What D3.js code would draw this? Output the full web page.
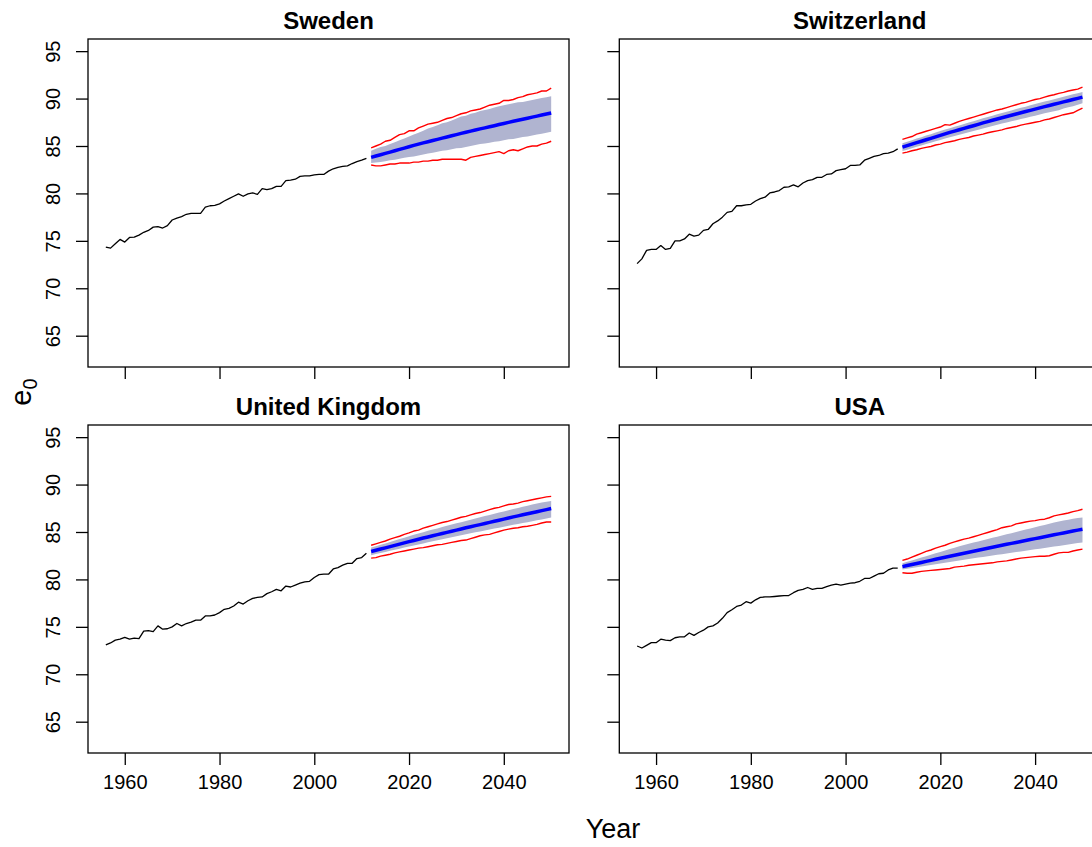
<!DOCTYPE html>
<html>
<head>
<meta charset="utf-8">
<script src="https://cdn.jsdelivr.net/npm/d3@7"></script>
<style>
  html, body { margin: 0; padding: 0; background: #ffffff; }
  svg { display: block; font-family: "Liberation Sans", Arial, sans-serif; }
</style>
</head>
<body>
<svg id="chart" width="1092" height="847"></svg>
<script>
// ---------------- DATA ----------------
const countries = ["Sweden", "Switzerland", "United Kingdom", "USA"];
const histYears = d3.range(1956, 2012);
const fcYears = d3.range(2012, 2051);
const xTickValues = [1960, 1980, 2000, 2020, 2040];
const yTickValues = [65, 70, 75, 80, 85, 90, 95];
const xLabel = "Year";

// historical e0, 1956-2011
const swedenHist = [74.34, 74.23, 74.7, 75.15, 74.87, 75.36, 75.4, 75.6, 75.9, 76.1,
  76.45, 76.5, 76.35, 76.6, 77.2, 77.4, 77.55, 77.8, 77.9, 77.9,
  77.9, 78.55, 78.7, 78.75, 78.9, 79.2, 79.45, 79.7, 79.95, 79.7,
  79.95, 80.05, 79.9, 80.5, 80.4, 80.5, 80.75, 80.75, 81.35, 81.4,
  81.5, 81.8, 81.85, 81.85, 81.95, 82.0, 82.0, 82.35, 82.6, 82.75,
  82.85, 82.9, 83.15, 83.35, 83.5, 83.7];
const switzerlandHist = [72.6, 73.1, 74.0, 74.1, 74.1, 74.5, 74.1, 74.2, 75.0, 75.0,
  75.2, 75.7, 75.5, 75.6, 76.1, 76.2, 76.8, 77.1, 77.5, 78.0,
  78.1, 78.7, 78.7, 78.8, 78.85, 79.2, 79.45, 79.6, 80.05, 80.15,
  80.3, 80.65, 80.7, 80.9, 80.7, 81.1, 81.35, 81.45, 81.7, 81.7,
  82.0, 82.05, 82.4, 82.5, 82.6, 82.95, 82.95, 83.0, 83.5, 83.7,
  83.9, 84.0, 84.2, 84.25, 84.4, 84.7];
const ukHist = [73.1, 73.3, 73.6, 73.7, 73.9, 73.7, 73.8, 73.75, 74.55, 74.6,
  74.5, 75.1, 74.75, 74.8, 75.0, 75.35, 75.1, 75.35, 75.5, 75.7,
  75.7, 76.15, 76.15, 76.25, 76.5, 76.85, 76.95, 77.2, 77.6, 77.4,
  77.75, 78.0, 78.1, 78.15, 78.5, 78.7, 78.95, 78.8, 79.3, 79.2,
  79.4, 79.6, 79.75, 79.8, 80.2, 80.5, 80.55, 80.55, 81.1, 81.25,
  81.5, 81.7, 81.7, 82.2, 82.3, 82.75];
const usaHist = [72.98, 72.77, 73.05, 73.33, 73.33, 73.7, 73.6, 73.55, 73.85, 73.95,
  73.95, 74.35, 74.1, 74.4, 74.65, 75.0, 75.1, 75.4, 75.9, 76.5,
  76.8, 77.15, 77.3, 77.65, 77.5, 77.85, 78.1, 78.15, 78.15, 78.2,
  78.25, 78.3, 78.3, 78.6, 78.85, 78.95, 79.15, 78.95, 79.05, 79.05,
  79.25, 79.4, 79.5, 79.4, 79.5, 79.6, 79.65, 79.8, 80.1, 80.1,
  80.35, 80.6, 80.65, 81.0, 81.2, 81.2];

// forecasts 2012-2050: median, inner band (grey), outer bounds (red)
const swedenMedian = [83.80, 83.94, 84.08, 84.22, 84.36, 84.50, 84.64, 84.78, 84.92, 85.06,
  85.20, 85.33, 85.45, 85.58, 85.70, 85.83, 85.95, 86.08, 86.20, 86.33,
  86.45, 86.57, 86.68, 86.80, 86.91, 87.03, 87.14, 87.26, 87.37, 87.49,
  87.60, 87.71, 87.82, 87.93, 88.04, 88.15, 88.26, 88.37, 88.48];
const swedenOuterUp = [84.8, 85.0, 85.2, 85.5, 85.6, 85.9, 86.2, 86.3, 86.6, 86.6,
  86.9, 87.1, 87.3, 87.4, 87.5, 87.7, 87.9, 88.0, 88.2, 88.4,
  88.5, 88.7, 88.8, 88.9, 89.1, 89.3, 89.4, 89.5, 89.8, 89.8,
  89.9, 90.1, 90.2, 90.4, 90.5, 90.6, 90.8, 90.8, 91.1];
const swedenOuterLo = [83.0, 82.9, 82.9, 83.0, 83.1, 83.1, 83.2, 83.2, 83.2, 83.3,
  83.3, 83.4, 83.4, 83.5, 83.5, 83.6, 83.6, 83.6, 83.6, 83.6,
  83.5, 83.8, 83.9, 84.0, 84.1, 84.2, 84.3, 84.4, 84.2, 84.5,
  84.6, 84.5, 84.7, 84.9, 85.0, 85.0, 85.2, 85.3, 85.5];
const swedenInnerUp = [84.5, 84.7, 84.9, 85.0, 85.2, 85.4, 85.6, 85.8, 86.0, 86.2,
  86.4, 86.6, 86.85, 87.0, 87.2, 87.4, 87.5, 87.7, 87.9, 88.1,
  88.2, 88.4, 88.5, 88.7, 88.8, 88.9, 89.05, 89.2, 89.3, 89.4,
  89.5, 89.6, 89.65, 89.75, 89.85, 89.95, 90.05, 90.15, 90.25];
const swedenInnerLo = [83.2, 83.25, 83.3, 83.4, 83.5, 83.55, 83.65, 83.75, 83.85, 83.9,
  84.0, 84.1, 84.2, 84.3, 84.4, 84.5, 84.55, 84.65, 84.75, 84.8,
  84.9, 85.0, 85.1, 85.2, 85.25, 85.35, 85.45, 85.5, 85.6, 85.7,
  85.75, 85.85, 85.95, 86.0, 86.1, 86.2, 86.3, 86.4, 86.5];

const switzerlandMedian = [84.88, 85.04, 85.19, 85.35, 85.50, 85.66, 85.81, 85.97, 86.12, 86.28,
  86.43, 86.57, 86.71, 86.86, 87.00, 87.14, 87.28, 87.43, 87.57, 87.71,
  87.85, 87.98, 88.11, 88.24, 88.37, 88.50, 88.63, 88.76, 88.89, 89.02,
  89.15, 89.27, 89.40, 89.52, 89.65, 89.77, 89.90, 90.02, 90.15];
const switzerlandOuterUp = [85.7, 85.85, 86.0, 86.25, 86.4, 86.55, 86.7, 86.85, 87.0, 87.25,
  87.2, 87.4, 87.6, 87.75, 87.9, 88.05, 88.2, 88.35, 88.5, 88.65,
  88.8, 88.9, 89.05, 89.2, 89.35, 89.5, 89.6, 89.75, 89.9, 90.0,
  90.15, 90.3, 90.4, 90.55, 90.65, 90.8, 90.9, 91.0, 91.2];
const switzerlandOuterLo = [84.25, 84.35, 84.5, 84.6, 84.75, 84.85, 84.95, 85.1, 85.2, 85.35,
  85.45, 85.55, 85.7, 85.8, 85.9, 86.05, 86.15, 86.25, 86.4, 86.5,
  86.6, 86.7, 86.85, 86.95, 87.05, 87.2, 87.3, 87.4, 87.5, 87.6,
  87.75, 87.85, 88.0, 88.15, 88.3, 88.4, 88.5, 88.75, 89.0];
const switzerlandInnerUp = [85.30, 85.45, 85.6, 85.78, 85.93, 86.1, 86.25, 86.42, 86.57, 86.73,
  86.88, 87.03, 87.17, 87.33, 87.47, 87.62, 87.76, 87.92, 88.06, 88.2,
  88.35, 88.48, 88.62, 88.75, 88.89, 89.02, 89.15, 89.29, 89.42, 89.55,
  89.68, 89.8, 89.94, 90.06, 90.2, 90.32, 90.45, 90.57, 90.7];
const switzerlandInnerLo = [84.46, 84.61, 84.76, 84.91, 85.06, 85.21, 85.35, 85.5, 85.64, 85.79,
  85.93, 86.06, 86.19, 86.33, 86.46, 86.59, 86.72, 86.85, 86.98, 87.11,
  87.24, 87.36, 87.48, 87.6, 87.72, 87.84, 87.96, 88.08, 88.2, 88.32,
  88.44, 88.55, 88.67, 88.78, 88.95, 89.08, 89.2, 89.35, 89.5];

const ukMedian = [82.94, 83.07, 83.2, 83.33, 83.46, 83.59, 83.72, 83.85, 83.98, 84.11,
  84.24, 84.36, 84.48, 84.6, 84.72, 84.84, 84.96, 85.08, 85.2, 85.32,
  85.44, 85.55, 85.67, 85.78, 85.9, 86.01, 86.13, 86.24, 86.36, 86.47,
  86.59, 86.7, 86.81, 86.92, 87.03, 87.14, 87.25, 87.36, 87.47];
const ukOuterUp = [83.6, 83.75, 83.9, 84.05, 84.25, 84.4, 84.55, 84.75, 84.9, 85.1,
  85.2, 85.4, 85.55, 85.7, 85.85, 86.0, 86.1, 86.25, 86.4, 86.55,
  86.65, 86.8, 86.95, 87.05, 87.2, 87.35, 87.5, 87.6, 87.75, 87.9,
  87.95, 88.05, 88.2, 88.3, 88.4, 88.5, 88.6, 88.7, 88.75];
const ukOuterLo = [82.25, 82.3, 82.45, 82.55, 82.65, 82.8, 82.9, 83.0, 83.1, 83.2,
  83.3, 83.35, 83.45, 83.55, 83.65, 83.7, 83.8, 83.9, 84.0, 84.1,
  84.15, 84.3, 84.45, 84.6, 84.7, 84.75, 84.9, 85.05, 85.2, 85.3,
  85.4, 85.45, 85.55, 85.6, 85.7, 85.8, 85.95, 86.05, 86.05];
const ukInnerUp = [83.36, 83.5, 83.65, 83.8, 83.95, 84.1, 84.25, 84.4, 84.55, 84.7,
  84.85, 84.98, 85.12, 85.25, 85.38, 85.52, 85.65, 85.78, 85.91, 86.04,
  86.17, 86.3, 86.43, 86.55, 86.68, 86.8, 86.93, 87.05, 87.17, 87.3,
  87.42, 87.54, 87.66, 87.78, 87.9, 88.01, 88.12, 88.2, 88.28];
const ukInnerLo = [82.55, 82.67, 82.78, 82.9, 83.01, 83.13, 83.24, 83.36, 83.47, 83.58,
  83.69, 83.8, 83.91, 84.02, 84.13, 84.24, 84.34, 84.45, 84.55, 84.65,
  84.76, 84.86, 84.96, 85.06, 85.16, 85.26, 85.36, 85.46, 85.56, 85.66,
  85.76, 85.85, 85.95, 86.04, 86.14, 86.23, 86.33, 86.42, 86.52];

const usaMedian = [81.35, 81.46, 81.57, 81.68, 81.79, 81.9, 82.01, 82.12, 82.23, 82.34,
  82.45, 82.55, 82.66, 82.76, 82.87, 82.97, 83.08, 83.18, 83.29, 83.39,
  83.5, 83.6, 83.7, 83.8, 83.9, 84.0, 84.1, 84.2, 84.3, 84.4,
  84.5, 84.6, 84.7, 84.8, 84.9, 85.0, 85.1, 85.2, 85.29];
const usaOuterUp = [82.0, 82.15, 82.35, 82.55, 82.75, 82.95, 83.1, 83.3, 83.45, 83.6,
  83.8, 83.95, 84.1, 84.25, 84.35, 84.5, 84.65, 84.8, 84.95, 85.1,
  85.25, 85.45, 85.55, 85.65, 85.85, 85.95, 86.05, 86.15, 86.2, 86.3,
  86.35, 86.5, 86.7, 86.8, 86.9, 87.0, 87.15, 87.25, 87.4];
const usaOuterLo = [80.7, 80.65, 80.65, 80.75, 80.85, 80.9, 80.95, 81.0, 81.05, 81.1,
  81.15, 81.3, 81.35, 81.4, 81.5, 81.55, 81.6, 81.65, 81.7, 81.75,
  81.85, 81.9, 81.95, 82.05, 82.15, 82.25, 82.3, 82.35, 82.4, 82.45,
  82.45, 82.5, 82.65, 82.8, 82.85, 82.85, 83.0, 83.1, 83.2];
const usaInnerUp = [81.7, 81.85, 82.0, 82.15, 82.3, 82.45, 82.6, 82.75, 82.9, 83.05,
  83.2, 83.35, 83.5, 83.62, 83.75, 83.88, 84.0, 84.13, 84.25, 84.38,
  84.5, 84.62, 84.75, 84.87, 85.0, 85.12, 85.25, 85.37, 85.5, 85.62,
  85.75, 85.87, 86.0, 86.1, 86.2, 86.3, 86.4, 86.47, 86.52];
const usaInnerLo = [81.05, 81.12, 81.2, 81.28, 81.36, 81.44, 81.52, 81.6, 81.68, 81.76,
  81.84, 81.92, 82.0, 82.08, 82.15, 82.22, 82.3, 82.37, 82.45, 82.52,
  82.59, 82.66, 82.74, 82.81, 82.88, 82.95, 83.02, 83.1, 83.17, 83.24,
  83.31, 83.39, 83.46, 83.53, 83.6, 83.68, 83.76, 83.84, 83.9];

// ---------------- LAYOUT ----------------
const svg = d3.select("#chart");
const colX = [88, 619.3];
const rowY = [39, 425];
const pw = 481, ph = 328;
const font = "'Liberation Sans', Arial, sans-serif";

const x = d3.scaleLinear().domain([1952.24, 2053.76]).range([0, pw]);
const y = d3.scaleLinear().domain([61.7, 96.28]).range([ph, 0]);

const panels = [
  {name: countries[0], col: 0, row: 0, hist: swedenHist, med: swedenMedian, oU: swedenOuterUp, oL: swedenOuterLo, iU: swedenInnerUp, iL: swedenInnerLo},
  {name: countries[1], col: 1, row: 0, hist: switzerlandHist, med: switzerlandMedian, oU: switzerlandOuterUp, oL: switzerlandOuterLo, iU: switzerlandInnerUp, iL: switzerlandInnerLo},
  {name: countries[2], col: 0, row: 1, hist: ukHist, med: ukMedian, oU: ukOuterUp, oL: ukOuterLo, iU: ukInnerUp, iL: ukInnerLo},
  {name: countries[3], col: 1, row: 1, hist: usaHist, med: usaMedian, oU: usaOuterUp, oL: usaOuterLo, iU: usaInnerUp, iL: usaInnerLo}
];

const line = d3.line().x(d => x(d[0])).y(d => y(d[1]));
const area = d3.area().x(d => x(d[0])).y0(d => y(d[1])).y1(d => y(d[2]));

panels.forEach(p => {
  const g = svg.append("g").attr("transform", `translate(${colX[p.col]},${rowY[p.row]})`);

  // grey band
  g.append("path")
    .datum(fcYears.map((yr, i) => [yr, p.iL[i], p.iU[i]]))
    .attr("d", area)
    .attr("fill", "#b0b4d0")
    .attr("stroke", "none");

  // red outer bounds
  [p.oU, p.oL].forEach(arr => {
    g.append("path")
      .datum(fcYears.map((yr, i) => [yr, arr[i]]))
      .attr("d", line)
      .attr("fill", "none")
      .attr("stroke", "#ff0000")
      .attr("stroke-width", 1.4)
      .attr("stroke-linejoin", "round");
  });

  // blue median
  g.append("path")
    .datum(fcYears.map((yr, i) => [yr, p.med[i]]))
    .attr("d", line)
    .attr("fill", "none")
    .attr("stroke", "#0000ff")
    .attr("stroke-width", 3.5)
    .attr("stroke-linejoin", "round");

  // black history
  g.append("path")
    .datum(histYears.map((yr, i) => [yr, p.hist[i]]))
    .attr("d", line)
    .attr("fill", "none")
    .attr("stroke", "#000000")
    .attr("stroke-width", 1.3)
    .attr("stroke-linejoin", "round");

  // box
  g.append("rect")
    .attr("x", 0).attr("y", 0).attr("width", pw).attr("height", ph)
    .attr("fill", "none").attr("stroke", "#000").attr("stroke-width", 1.3);

  // x axis
  const xa = d3.axisBottom(x).tickValues(xTickValues).tickSize(12).tickSizeOuter(0)
    .tickFormat(p.row === 1 ? d3.format("d") : () => "").tickPadding(10);
  const gx = g.append("g").attr("transform", `translate(0,${ph})`).call(xa);
  gx.select(".domain").remove();
  gx.selectAll(".tick line").attr("stroke", "#000").attr("stroke-width", 1.3);
  gx.selectAll(".tick text").attr("font-size", 20).attr("font-family", font).attr("fill", "#000");

  // y axis
  const ya = d3.axisLeft(y).tickValues(yTickValues).tickSize(12).tickSizeOuter(0)
    .tickFormat(p.col === 0 ? d3.format("d") : () => "");
  const gy = g.append("g").call(ya);
  gy.select(".domain").remove();
  gy.selectAll(".tick line").attr("stroke", "#000").attr("stroke-width", 1.3);
  gy.selectAll(".tick text")
    .attr("font-size", 20).attr("font-family", font).attr("fill", "#000")
    .attr("x", null).attr("dy", null)
    .attr("text-anchor", "middle")
    .attr("transform", "translate(-28,0) rotate(-90)");

  // title
  g.append("text")
    .attr("x", pw / 2).attr("y", -10)
    .attr("text-anchor", "middle")
    .attr("font-family", font).attr("font-weight", "bold").attr("font-size", 24)
    .text(p.name);
});

// axis titles
svg.append("text")
  .attr("x", 613).attr("y", 838)
  .attr("text-anchor", "middle")
  .attr("font-family", font).attr("font-size", 27)
  .text(xLabel);

const ylab = svg.append("text")
  .attr("transform", "translate(31,392) rotate(-90)")
  .attr("text-anchor", "middle")
  .attr("font-family", font).attr("font-size", 29);
ylab.append("tspan").text("e");
ylab.append("tspan").attr("font-size", 20).attr("dy", 6).text("0");
</script>
</body>
</html>
